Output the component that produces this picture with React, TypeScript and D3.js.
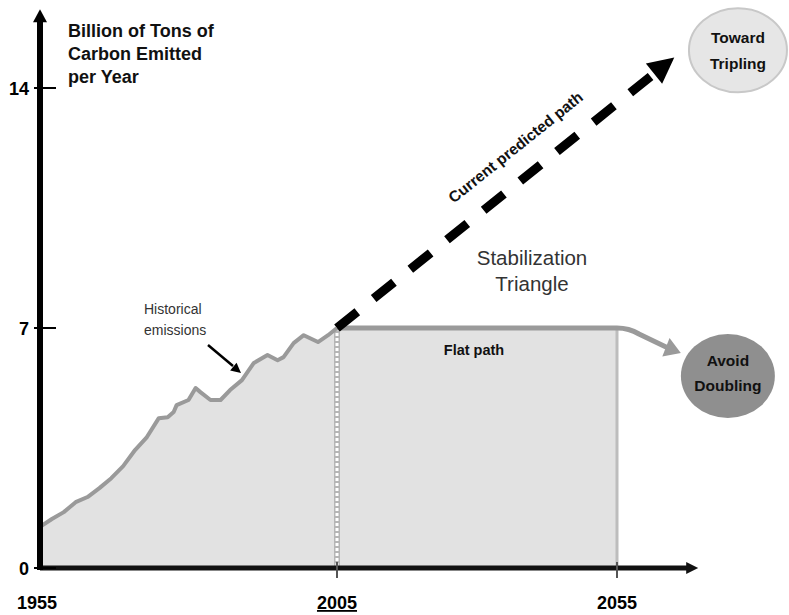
import * as d3 from 'd3'

// historical emissions (billion tons of carbon per year)
const histYears = [1955, 1957, 1959, 1961, 1963, 1965, 1967, 1969, 1971, 1973, 1975, 1976.5, 1977.5, 1978, 1980, 1981.2, 1982, 1983.7, 1985.4, 1987, 1989, 1991, 1993.3, 1995, 1996, 1997.7, 1999.4, 2001.8, 2003.5, 2005]
const histValues = [1.2, 1.43, 1.63, 1.92, 2.07, 2.33, 2.62, 2.97, 3.44, 3.82, 4.37, 4.4, 4.55, 4.75, 4.9, 5.25, 5.13, 4.9, 4.9, 5.19, 5.48, 5.98, 6.21, 6.06, 6.15, 6.56, 6.79, 6.59, 6.79, 7.0]

// projected paths
const predictedYears = [2005, 2063]
const predictedValues = [7, 14.6]
const flatYears = [2005, 2055]
const flatValues = [7, 7]
const flatArrowEnd = [2066.4, 6.27]

const xTicks = [1955, 2005, 2055]
const yTicks = [0, 7, 14]

const W = 789
const H = 615
const FONT = '"Liberation Sans", Arial, sans-serif'

export default function App() {
  // the source chart is not drawn to scale along x, so piecewise
  const x = d3.scaleLinear().domain([1955, 2005, 2055]).range([40, 337, 617])
  const y = d3.scaleLinear().domain([0, 14]).range([568, 88])

  const hist = histYears.map((yr, i) => [yr, histValues[i]] as [number, number])
  const area = d3.area<[number, number]>().x(d => x(d[0])).y0(y(0)).y1(d => y(d[1]))
  const line = d3.line<[number, number]>().x(d => x(d[0])).y(d => y(d[1]))

  // predicted path
  const p0: [number, number] = [x(predictedYears[0]), y(predictedValues[0])]
  const p1: [number, number] = [x(predictedYears[1]), y(predictedValues[1])]
  const ang = Math.atan2(p1[1] - p0[1], p1[0] - p0[0])
  const head = (tip: [number, number], a: number, len: number, wid: number) => {
    const bx = tip[0] - len * Math.cos(a)
    const by = tip[1] - len * Math.sin(a)
    const nx = -Math.sin(a) * wid
    const ny = Math.cos(a) * wid
    return `M${tip[0]},${tip[1]}L${bx + nx},${by + ny}L${bx - nx},${by - ny}Z`
  }
  const tip1: [number, number] = [p1[0] + 16 * Math.cos(ang), p1[1] + 16 * Math.sin(ang)]

  // flat path
  const f0: [number, number] = [x(flatYears[0]), y(flatValues[0])]
  const f1: [number, number] = [x(flatYears[1]), y(flatValues[1])]
  const fe: [number, number] = [x(flatArrowEnd[0]), y(flatArrowEnd[1])]
  const fAng = Math.atan2(fe[1] - (f1[1] + 8), fe[0] - (f1[0] + 20))
  const fStop: [number, number] = [fe[0] - 12 * Math.cos(fAng), fe[1] - 12 * Math.sin(fAng)]

  const xEnd = x(2069.5)
  const yTop = y(16.3)

  const tripC = [x(2076.6), y(15.1)]
  const doubC = [x(2074.8), y(5.6)]

  const angDeg = (ang * 180) / Math.PI
  const labelPos = [x(2037.5), y(12.15)]

  return (
    <svg width={W} height={H} style={{ position: 'absolute', left: 0, top: 0, background: '#fff' }} fontFamily={FONT}>
      {/* shaded areas */}
      <path d={area(hist) || ''} fill="#e2e2e2" />
      <rect x={f0[0]} y={f0[1]} width={f1[0] - f0[0]} height={y(0) - f0[1]} fill="#e2e2e2" />
      <line x1={f1[0]} x2={f1[0]} y1={f1[1]} y2={y(0)} stroke="#bdbdbd" strokeWidth={3} />
      <line x1={f0[0]} x2={f0[0]} y1={f0[1]} y2={y(0)} stroke="#b5b5b5" strokeWidth={6} />
      <line x1={f0[0]} x2={f0[0]} y1={f0[1]} y2={y(0)} stroke="#fff" strokeWidth={3} strokeDasharray="3 2" />

      {/* historical line */}
      <path d={line(hist) || ''} fill="none" stroke="#9a9a9a" strokeWidth={4} strokeLinejoin="round" />

      {/* flat path */}
      <path
        d={`M${f0[0]},${f0[1]}L${f1[0]},${f1[1]}Q${f1[0] + 12},${f1[1]} ${f1[0] + 22},${f1[1] + 6}L${fStop[0]},${fStop[1]}`}
        fill="none" stroke="#9a9a9a" strokeWidth={5}
      />
      <path d={head(fe, fAng, 16, 10)} fill="#9a9a9a" />

      {/* predicted path */}
      <line x1={p0[0]} y1={p0[1]} x2={p1[0]} y2={p1[1]} stroke="#000" strokeWidth={9} strokeDasharray="26 21" />
      <path d={head(tip1, ang, 26, 13)} fill="#000" />

      {/* axes */}
      <line x1={40} x2={xEnd - 8} y1={y(0)} y2={y(0)} stroke="#111" strokeWidth={5} />
      <path d={head([xEnd, y(0)], 0, 12, 6)} fill="#111" />
      <line x1={40} x2={40} y1={y(0) + 2} y2={yTop + 8} stroke="#000" strokeWidth={6} />
      <path d={head([40, yTop], -Math.PI / 2, 13, 7)} fill="#000" />

      {yTicks.map(t => (
        <g key={t}>
          <line x1={34} x2={56} y1={y(t)} y2={y(t)} stroke="#000" strokeWidth={2} />
          <text x={29} y={y(t) + 7} textAnchor="end" fontSize={18} fontWeight="bold">{t}</text>
        </g>
      ))}
      {xTicks.map((t, i) => (
        <g key={t}>
          {i > 0 && <line x1={x(t)} x2={x(t)} y1={y(0) - 6} y2={y(0) + 10} stroke="#555" strokeWidth={2} />}
          <text x={i === 0 ? x(t) - 3 : x(t)} y={609} textAnchor="middle" fontSize={18} fontWeight="bold"
            textDecoration={t === 2005 ? 'underline' : undefined}>{t}</text>
        </g>
      ))}

      {/* axis title */}
      <text fontSize={18} fontWeight="bold" fill="#111">
        <tspan x={68} y={37}>Billion of Tons of</tspan>
        <tspan x={68} y={60}>Carbon Emitted</tspan>
        <tspan x={68} y={83}>per Year</tspan>
      </text>

      {/* annotations */}
      <text fontSize={14} fill="#333">
        <tspan x={144} y={314}>Historical</tspan>
        <tspan x={144} y={335}>emissions</tspan>
      </text>
      <line x1={208} y1={345} x2={233} y2={366} stroke="#000" strokeWidth={2.5} />
      <path d={head([241, 373], Math.atan2(21, 25), 10, 5)} fill="#000" />

      <text transform={`translate(${labelPos[0]},${labelPos[1]}) rotate(${angDeg})`} textAnchor="middle"
        fontSize={15.5} fontWeight="bold" fill="#111">Current predicted path</text>

      <text fontSize={20.5} fill="#333" textAnchor="middle">
        <tspan x={532} y={265}>Stabilization</tspan>
        <tspan x={532} y={291}>Triangle</tspan>
      </text>
      <text x={474} y={355} textAnchor="middle" fontSize={14.5} fontWeight="bold" fill="#111">Flat path</text>

      <ellipse cx={tripC[0]} cy={tripC[1]} rx={49} ry={42} fill="#e6e6e6" stroke="#c8c8c8" strokeWidth={2} />
      <text fontSize={15.5} fontWeight="bold" textAnchor="middle" fill="#111">
        <tspan x={tripC[0]} y={tripC[1] - 7}>Toward</tspan>
        <tspan x={tripC[0]} y={tripC[1] + 19}>Tripling</tspan>
      </text>

      <ellipse cx={doubC[0]} cy={doubC[1]} rx={47} ry={42} fill="#8f8f8f" />
      <text fontSize={15.5} fontWeight="bold" textAnchor="middle" fill="#111">
        <tspan x={doubC[0]} y={doubC[1] - 10}>Avoid</tspan>
        <tspan x={doubC[0]} y={doubC[1] + 15}>Doubling</tspan>
      </text>
    </svg>
  )
}
